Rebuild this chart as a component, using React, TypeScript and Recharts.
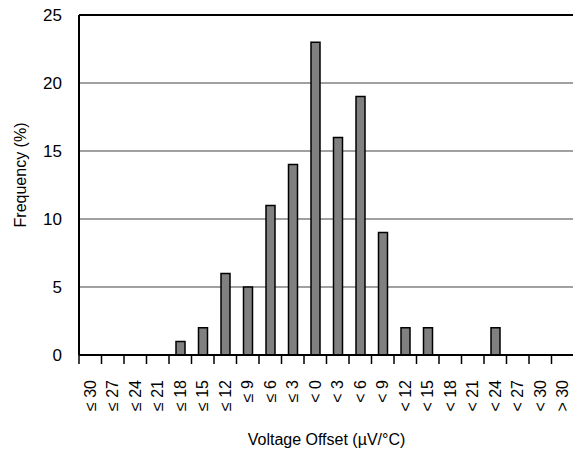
import React from 'react'
import { BarChart, Bar, XAxis, YAxis, CartesianGrid, ReferenceLine } from 'recharts'

const OFFSET_LABELS = [
  '≤ 30', '≤ 27', '≤ 24', '≤ 21', '≤ 18', '≤ 15', '≤ 12', '≤ 9', '≤ 6', '≤ 3',
  '< 0', '< 3', '< 6', '< 9', '< 12', '< 15', '< 18', '< 21', '< 24', '< 27', '< 30', '> 30',
]
const FREQUENCY = [0, 0, 0, 0, 1, 2, 6, 5, 11, 14, 23, 16, 19, 9, 2, 2, 0, 0, 2, 0, 0, 0]
const Y_TICKS = [0, 5, 10, 15, 20, 25]

const data = OFFSET_LABELS.map((name, i) => ({ name, freq: FREQUENCY[i] }))

const FONT = "Arial, 'Liberation Sans', sans-serif"
const W = 580
const H = 451
const MARGIN = { top: 15, right: 6, left: 0, bottom: 0 }
const Y_W = 79
const BAND = (W - MARGIN.left - MARGIN.right - Y_W) / OFFSET_LABELS.length

const XTick = (props: any) => {
  const { x, y, payload } = props
  const ty = y + 25
  return (
    <g>
      <line x1={x - BAND / 2} y1={y} x2={x - BAND / 2} y2={y + 9} stroke="#000" strokeWidth={1.5} />
      <text
        x={x}
        y={ty}
        dy="0.35em"
        textAnchor="end"
        transform={`rotate(-90 ${x} ${ty})`}
        fontFamily={FONT}
        fontSize={16}
        fill="#000"
      >
        {payload.value}
      </text>
    </g>
  )
}

const YTitle = (props: any) => {
  const vb = props.viewBox || { x: 0, y: 15, width: 79, height: 340 }
  const cx = vb.x + 20
  const cy = vb.y + vb.height / 2 - 10
  return (
    <text
      x={cx}
      y={cy}
      dy="0.35em"
      textAnchor="middle"
      transform={`rotate(-90 ${cx} ${cy})`}
      fontFamily={FONT}
      fontSize={16}
      fill="#000"
    >
      Frequency (%)
    </text>
  )
}

export default function App() {
  return (
    <div style={{ position: 'absolute', left: 0, top: 0, background: '#fff' }}>
      <BarChart width={W} height={H} data={data} margin={MARGIN} barCategoryGap={0}>
        <CartesianGrid vertical={false} stroke="#808080" strokeWidth={1.5} />
        <XAxis
          dataKey="name"
          height={96}
          interval={0}
          tickLine={false}
          tickSize={0}
          tickMargin={0}
          axisLine={{ stroke: '#000', strokeWidth: 2 }}
          tick={<XTick />}
          label={{
            value: 'Voltage Offset (µV/°C)',
            position: 'insideBottom',
            offset: 6,
            fontFamily: FONT,
            fontSize: 16,
            fill: '#000',
          }}
        />
        <YAxis
          width={Y_W}
          domain={[0, 25]}
          ticks={Y_TICKS}
          interval={0}
          tickLine={false}
          tickSize={0}
          tickMargin={17}
          axisLine={{ stroke: '#000', strokeWidth: 2 }}
          tick={{ fontFamily: FONT, fontSize: 17, fill: '#000' }}
          label={<YTitle />}
        />
        <ReferenceLine y={25} stroke="#000" strokeWidth={2} />
        <Bar dataKey="freq" fill="#808080" stroke="#000" strokeWidth={1.5} barSize={9} isAnimationActive={false} />
      </BarChart>
    </div>
  )
}
